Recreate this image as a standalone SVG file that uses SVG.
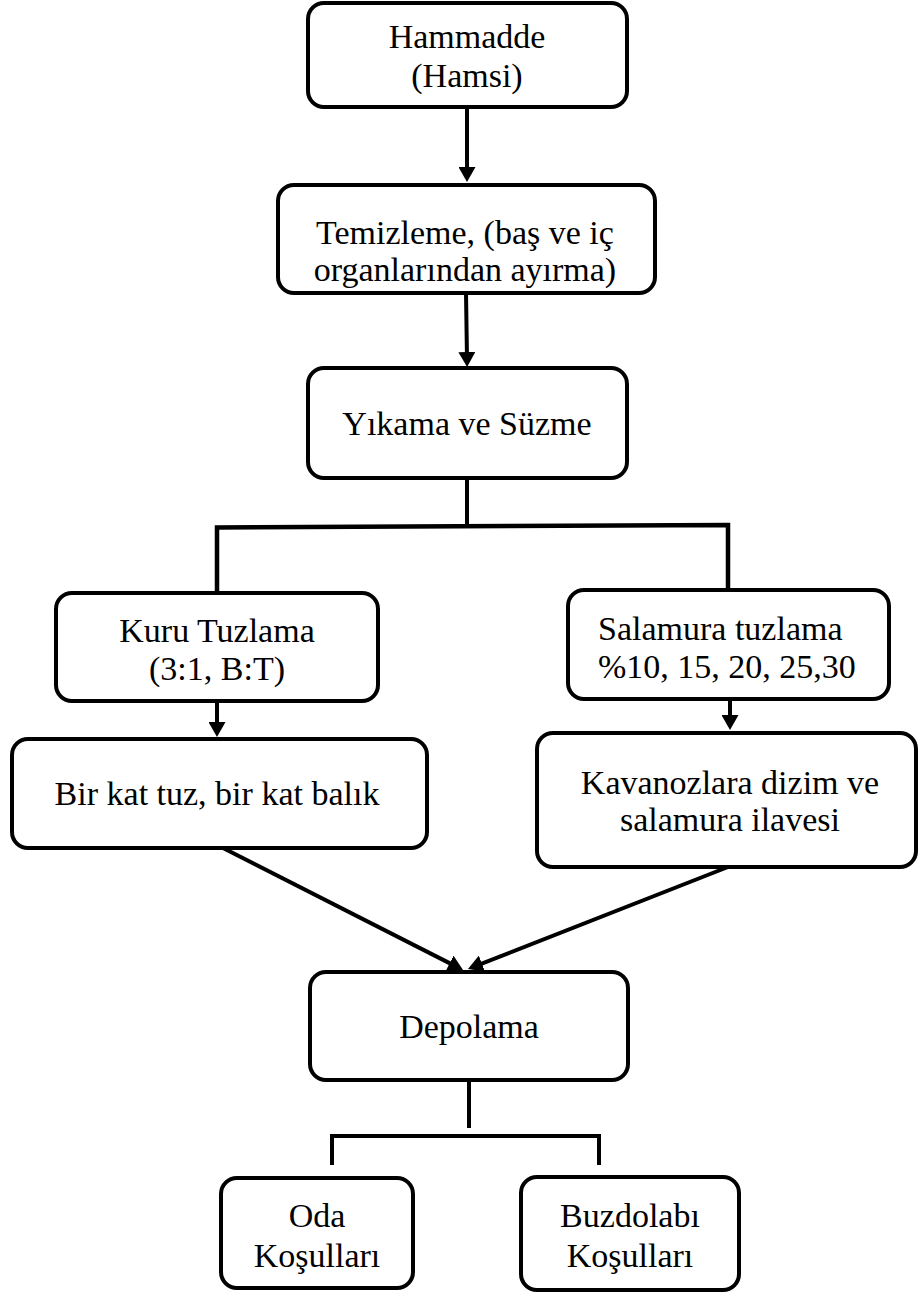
<svg xmlns="http://www.w3.org/2000/svg" width="920" height="1294" viewBox="0 0 920 1294">
  <style>
    .box { fill: #ffffff; stroke: #000000; stroke-width: 4; }
    .lbl { font-family: "Liberation Serif", "Times New Roman", serif; font-size: 34px; fill: #000000; text-anchor: middle; }
    .lbl-l { font-family: "Liberation Serif", "Times New Roman", serif; font-size: 34px; fill: #000000; text-anchor: start; }
    .wire { fill: none; stroke: #000000; stroke-width: 4; }
    .arrow { fill: none; stroke: #000000; stroke-width: 4; marker-end: url(#head); }
    .bar { fill: none; stroke: #000000; stroke-width: 4.5; stroke-linejoin: miter; }
  </style>
  <defs>
    <marker id="head" markerUnits="userSpaceOnUse" markerWidth="17" markerHeight="17" refX="7" refY="8.5" orient="auto">
      <path d="M0,0 L15,8.5 L0,17 Z" fill="#000000"/>
    </marker>
  </defs>

  <rect width="920" height="1294" fill="#ffffff"/>

  <!-- connectors -->
  <g id="connectors">
    <line class="arrow" x1="467" y1="107" x2="467" y2="174"/>
    <line class="arrow" x1="466" y1="293" x2="467" y2="359"/>
    <line class="wire" x1="467" y1="478" x2="467" y2="526"/>
    <path class="bar" d="M217,592 V527.5 L728,525 V590"/>
    <line class="arrow" x1="217" y1="701" x2="217" y2="729"/>
    <line class="arrow" x1="730" y1="699" x2="730" y2="722"/>
    <line class="arrow" x1="223" y1="848" x2="455.9" y2="966.4"/>
    <line class="arrow" x1="728" y1="867" x2="475.4" y2="966.1"/>
    <line class="wire" x1="469" y1="1080" x2="469" y2="1128"/>
    <path class="bar" d="M332,1165 V1136 H599 V1165" style="stroke-width:4"/>
  </g>

  <g id="hammadde">
    <rect class="box" x="308" y="3" width="319" height="104" rx="16"/>
    <text class="lbl" x="467" y="48">Hammadde</text>
    <text class="lbl" x="467" y="87">(Hamsi)</text>
  </g>

  <g id="temizleme">
    <rect class="box" x="278" y="185" width="377" height="108" rx="16"/>
    <text class="lbl" x="465" y="244">Temizleme, (baş ve iç</text>
    <text class="lbl" x="465" y="281">organlarından ayırma)</text>
  </g>

  <g id="yikama">
    <rect class="box" x="308" y="368" width="319" height="110" rx="16"/>
    <text class="lbl" x="467" y="435">Yıkama ve Süzme</text>
  </g>

  <g id="kuru-tuzlama">
    <rect class="box" x="56" y="593" width="322" height="108" rx="16"/>
    <text class="lbl" x="217" y="642">Kuru Tuzlama</text>
    <text class="lbl" x="217" y="680">(3:1, B:T)</text>
  </g>

  <g id="salamura-tuzlama">
    <rect class="box" x="568" y="590" width="321" height="109" rx="16"/>
    <text class="lbl-l" x="598" y="640">Salamura tuzlama</text>
    <text class="lbl-l" x="598" y="678">%10, 15, 20, 25,30</text>
  </g>

  <g id="bir-kat">
    <rect class="box" x="12" y="739" width="415" height="109" rx="16"/>
    <text class="lbl" x="217" y="805">Bir kat tuz, bir kat balık</text>
  </g>

  <g id="kavanoz">
    <rect class="box" x="537" y="733" width="379" height="134" rx="16"/>
    <text class="lbl" x="730" y="794">Kavanozlara dizim ve</text>
    <text class="lbl" x="730" y="831">salamura ilavesi</text>
  </g>

  <g id="depolama">
    <rect class="box" x="310" y="972" width="318" height="108" rx="16"/>
    <text class="lbl" x="469" y="1038">Depolama</text>
  </g>

  <g id="oda">
    <rect class="box" x="221" y="1178" width="192" height="110" rx="16"/>
    <text class="lbl" x="317" y="1227">Oda</text>
    <text class="lbl" x="317" y="1267">Koşulları</text>
  </g>

  <g id="buzdolabi">
    <rect class="box" x="521" y="1177" width="218" height="113" rx="16"/>
    <text class="lbl" x="630" y="1227">Buzdolabı</text>
    <text class="lbl" x="630" y="1267">Koşulları</text>
  </g>
</svg>
